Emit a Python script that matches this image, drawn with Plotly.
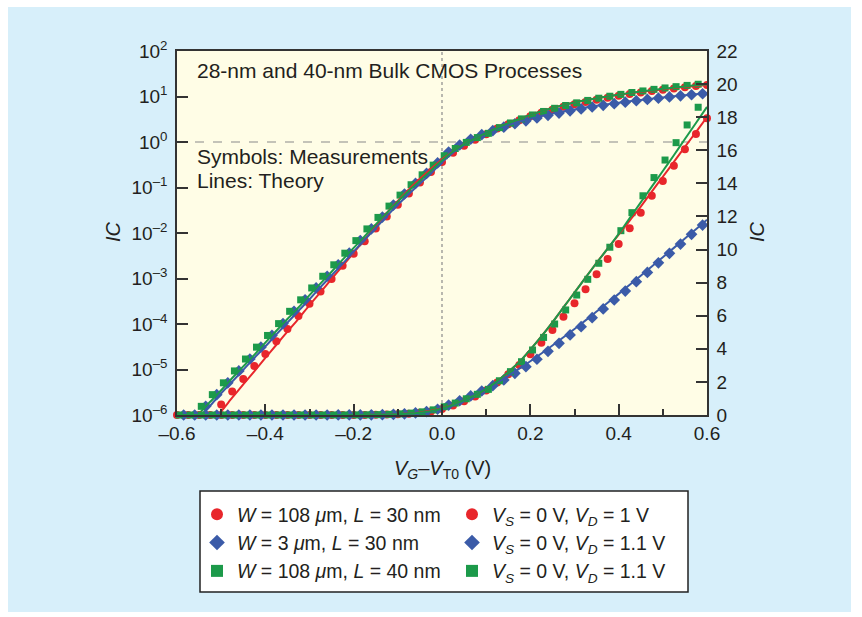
import plotly.graph_objects as go

# ---------------- data ----------------
# Measurements (symbols)
x_red = [round(-0.6 + 0.025 * k, 3) for k in range(49)]
ic_red = [1.4e-7, 2.6e-7, 4.9e-7, 9.3e-7, 1.7e-6, 3.3e-6, 6.2e-6, 1.2e-5, 2.2e-5, 4.2e-5,
          7.8e-5, 1.5e-4, 2.8e-4, 5.2e-4, 9.8e-4, 1.9e-3, 3.5e-3, 6.6e-3, 0.0126, 0.023,
          0.042, 0.074, 0.129, 0.219, 0.363, 0.58, 0.83, 1.12, 1.48, 1.97,
          2.47, 3.02, 3.67, 4.37, 5.14, 5.94, 6.75, 7.6, 8.5, 9.43,
          10.34, 11.28, 12.23, 13.25, 14.14, 15.07, 16.06, 16.98, 17.93]

x_blue = [round(-0.585 + 0.025 * k, 3) for k in range(48)]
ic_blue = [4.7e-7, 8.5e-7, 1.55e-6, 2.8e-6, 5.1e-6, 9.3e-6, 1.7e-5, 3.1e-5, 5.6e-5, 1.02e-4,
           1.9e-4, 3.4e-4, 6.2e-4, 1.12e-3, 2.0e-3, 3.6e-3, 6.8e-3, 0.0123, 0.0224, 0.041,
           0.072, 0.123, 0.204, 0.347, 0.6, 0.86, 1.15, 1.45, 1.77, 2.12,
           2.52, 2.92, 3.37, 3.85, 4.33, 4.84, 5.34, 5.88, 6.41, 6.95,
           7.49, 8.06, 8.62, 9.2, 9.77, 10.33, 10.92, 11.48]

x_green = [round(-0.595 + 0.025 * k, 3) for k in range(48)]
ic_green = [4.7e-7, 8.5e-7, 1.55e-6, 2.8e-6, 5.1e-6, 9.3e-6, 1.7e-5, 3.1e-5, 5.6e-5, 1.02e-4,
            1.9e-4, 3.4e-4, 6.2e-4, 1.12e-3, 2.0e-3, 3.6e-3, 6.8e-3, 0.0123, 0.022, 0.039,
            0.068, 0.115, 0.19, 0.31, 0.5, 0.72, 0.98, 1.25, 1.55, 2.07,
            2.62, 3.22, 3.93, 4.69, 5.5, 6.35, 7.25, 8.2, 9.17, 10.14,
            11.14, 12.23, 13.25, 14.35, 15.41, 16.46, 17.53, 18.6]

# Theory (lines)
x_th = [round(-0.6 + 0.025 * k, 3) for k in range(49)]
th_red = [8.5e-8, 1.7e-7, 3.2e-7, 6.3e-7, 1.2e-6, 2.4e-6, 4.7e-6, 9.1e-6, 1.8e-5, 3.5e-5,
          6.8e-5, 1.3e-4, 2.6e-4, 5.0e-4, 9.8e-4, 1.9e-3, 3.7e-3, 7.2e-3, 0.0141, 0.0275,
          0.051, 0.091, 0.155, 0.257, 0.417, 0.62, 0.9, 1.2, 1.58, 2.05,
          2.6, 3.2, 3.95, 4.75, 5.6, 6.5, 7.4, 8.3, 9.2, 10.05,
          10.9, 11.75, 12.6, 13.5, 14.4, 15.3, 16.2, 17.1, 18.0]
th_blue = [2.7e-7, 4.9e-7, 8.9e-7, 1.6e-6, 3.0e-6, 5.4e-6, 9.8e-6, 1.8e-5, 3.2e-5, 5.9e-5,
           1.07e-4, 1.95e-4, 3.5e-4, 6.5e-4, 1.17e-3, 2.1e-3, 3.9e-3, 7.1e-3, 0.0129, 0.0234,
           0.042, 0.072, 0.123, 0.204, 0.36, 0.58, 0.88, 1.22, 1.6, 1.97,
           2.37, 2.8, 3.25, 3.72, 4.2, 4.7, 5.2, 5.72, 6.25, 6.78,
           7.32, 7.87, 8.42, 8.98, 9.54, 10.1, 10.67, 11.23, 11.8]
th_green = [3.2e-7, 5.9e-7, 1.07e-6, 1.95e-6, 3.5e-6, 6.5e-6, 1.17e-5, 2.1e-5, 3.9e-5, 7.1e-5,
            1.29e-4, 2.3e-4, 4.3e-4, 7.8e-4, 1.41e-3, 2.6e-3, 4.7e-3, 8.5e-3, 0.0155, 0.0275,
            0.049, 0.085, 0.141, 0.234, 0.39, 0.62, 0.9, 1.2, 1.58, 2.05,
            2.6, 3.2, 3.95, 4.75, 5.6, 6.5, 7.4, 8.3, 9.2, 10.05,
            10.95, 11.9, 12.85, 13.8, 14.75, 15.7, 16.68, 17.65, 18.62]

device_labels = ["<i>W</i> = 108 <i>μ</i>m, <i>L</i> = 30 nm",
                 "<i>W</i> = 3 <i>μ</i>m, <i>L</i> = 30 nm",
                 "<i>W</i> = 108 <i>μ</i>m, <i>L</i> = 40 nm"]
bias_labels = ["<i>V</i><sub><i>S</i></sub> = 0 V, <i>V</i><sub><i>D</i></sub> = 1 V",
               "<i>V</i><sub><i>S</i></sub> = 0 V, <i>V</i><sub><i>D</i></sub> = 1.1 V",
               "<i>V</i><sub><i>S</i></sub> = 0 V, <i>V</i><sub><i>D</i></sub> = 1.1 V"]

x_tickvals = [-0.6, -0.4, -0.2, 0.0, 0.2, 0.4, 0.6]
x_ticktext = ["–0.6", "–0.4", "–0.2", "0.0", "0.2", "0.4", "0.6"]
log_tickvals = [1e-6, 1e-5, 1e-4, 1e-3, 1e-2, 1e-1, 1e0, 1e1, 1e2]
log_ticktext = ["10<sup>–6</sup>", "10<sup>–5</sup>", "10<sup>–4</sup>", "10<sup>–3</sup>",
                "10<sup>–2</sup>", "10<sup>–1</sup>", "10<sup>0</sup>", "10<sup>1</sup>", "10<sup>2</sup>"]

# ---------------- style ----------------
RED, BLUE, GREEN = "#E8262B", "#3B5BA8", "#1C9A4A"
FONT = "Liberation Sans, Arial, sans-serif"
INK = "#231F20"
AX = "#333333"

series = [
    (x_red, ic_red, th_red, RED, "circle", 8),
    (x_blue, ic_blue, th_blue, BLUE, "diamond", 9),
    (x_green, ic_green, th_green, GREEN, "square", 7),
]

fig = go.Figure()

# measurement markers: log view (left axis) and linear view (right axis)
for i, (xs, ys, th, col, sym, sz) in enumerate(series):
    fig.add_trace(go.Scatter(x=xs, y=ys, mode="markers", yaxis="y",
                             marker=dict(color=col, symbol=sym, size=sz, line=dict(width=0)),
                             name=device_labels[i], legend="legend", cliponaxis=True))
    fig.add_trace(go.Scatter(x=xs, y=ys, mode="markers", yaxis="y2",
                             marker=dict(color=col, symbol=sym, size=sz, line=dict(width=0)),
                             name=bias_labels[i], legend="legend2", cliponaxis=False))

# theory lines
for xs, ys, th, col, sym, sz in series:
    fig.add_trace(go.Scatter(x=x_th, y=th, mode="lines", yaxis="y", showlegend=False,
                             line=dict(color=col, width=2, shape="spline", smoothing=0.5)))
    fig.add_trace(go.Scatter(x=x_th, y=th, mode="lines", yaxis="y2", showlegend=False,
                             line=dict(color=col, width=2, shape="spline", smoothing=0.5)))

L, R, T, B = 177, 155, 51, 202
W, H = 862, 617
pw, ph = W - L - R, H - T - B


def px(xp):
    return (xp - L) / pw


def py(yp):
    return (H - B - yp) / ph


shapes = [
    dict(type="rect", xref="paper", yref="paper", x0=px(8), x1=px(851), y0=py(612), y1=py(7),
         fillcolor="#D7EFFA", line=dict(width=0), layer="below"),
    dict(type="rect", xref="paper", yref="paper", x0=0, x1=1, y0=0, y1=1,
         fillcolor="#FFFDE6", line=dict(width=0), layer="below"),
    dict(type="line", xref="paper", yref="paper", x0=0, x1=1, y0=0.75, y1=0.75,
         line=dict(color="#8A8A8A", width=1.2, dash="dash"), layer="below"),
    dict(type="line", xref="x", yref="paper", x0=0, x1=0, y0=0, y1=1,
         line=dict(color="#8A8A8A", width=1.2, dash="dot"), layer="below"),
    dict(type="rect", xref="paper", yref="paper", x0=px(200), x1=px(688), y0=py(592), y1=py(491),
         fillcolor="white", line=dict(color="#222222", width=1.5), layer="below"),
]

annotations = [
    dict(text="28-nm and 40-nm Bulk CMOS Processes", x=px(195), y=py(70), xref="paper", yref="paper",
         xanchor="left", yanchor="middle", showarrow=False, font=dict(size=21, color=INK, family=FONT)),
    dict(text="Symbols: Measurements", x=px(195), y=py(156), xref="paper", yref="paper",
         xanchor="left", yanchor="middle", showarrow=False, font=dict(size=21, color=INK, family=FONT)),
    dict(text="Lines: Theory", x=px(195), y=py(180), xref="paper", yref="paper",
         xanchor="left", yanchor="middle", showarrow=False, font=dict(size=21, color=INK, family=FONT)),
    dict(text="<i>IC</i>", x=px(113), y=py(232), xref="paper", yref="paper", textangle=-90,
         xanchor="center", yanchor="middle", showarrow=False, font=dict(size=20, color=INK, family=FONT)),
    dict(text="<i>IC</i>", x=px(757), y=py(232), xref="paper", yref="paper", textangle=-90,
         xanchor="center", yanchor="middle", showarrow=False, font=dict(size=20, color=INK, family=FONT)),
    dict(text="<i>V</i><sub><i>G</i></sub>–<i>V</i><sub>T0</sub> (V)", x=0.5, y=py(470),
         xref="paper", yref="paper", xanchor="center", yanchor="middle", showarrow=False,
         font=dict(size=20, color=INK, family=FONT)),
]

axis_common = dict(showline=True, linecolor=AX, linewidth=1.5, ticks="inside", ticklen=11,
                   tickwidth=1.5, tickcolor=AX, showgrid=False, zeroline=False,
                   tickfont=dict(size=19, color=INK, family=FONT))

fig.update_layout(
    width=W, height=H, autosize=False,
    margin=dict(l=L, r=R, t=T, b=B, pad=0),
    paper_bgcolor="white", plot_bgcolor="rgba(0,0,0,0)",
    font=dict(family=FONT, color=INK),
    xaxis=dict(range=[-0.6, 0.6], tickvals=x_tickvals, ticktext=x_ticktext, mirror=True,
               minor=dict(tickvals=[-0.5, -0.3, -0.1, 0.1, 0.3, 0.5], ticks="inside", ticklen=6,
                          tickwidth=1.5, tickcolor=AX),
               **axis_common),
    yaxis=dict(type="log", range=[-6, 2], tickvals=log_tickvals, ticktext=log_ticktext,
               ticklabelstandoff=4, **axis_common),
    yaxis2=dict(overlaying="y", side="right", range=[0, 22], tickvals=list(range(0, 23, 2)),
                ticklabelstandoff=4, **axis_common),
    shapes=shapes,
    annotations=annotations,
    legend=dict(x=px(197), y=py(495), xanchor="left", yanchor="top", orientation="v",
                bgcolor="rgba(0,0,0,0)", borderwidth=0, itemsizing="constant",
                font=dict(size=19.5, color=INK, family=FONT), tracegroupgap=0),
    legend2=dict(x=px(452), y=py(495), xanchor="left", yanchor="top", orientation="v",
                 bgcolor="rgba(0,0,0,0)", borderwidth=0, itemsizing="constant",
                 font=dict(size=19.5, color=INK, family=FONT), tracegroupgap=0),
)

fig.write_html("out.html")
